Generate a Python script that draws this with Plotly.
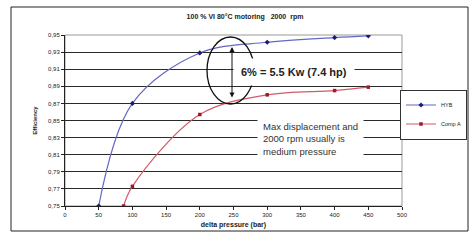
import plotly.graph_objects as go

# ---- data ----
pressure_hyb = [50, 100, 200, 300, 400, 450]
eff_hyb = [0.750, 0.870, 0.929, 0.9415, 0.947, 0.949]
pressure_comp = [87, 100, 200, 300, 400, 450]
eff_comp = [0.750, 0.773, 0.857, 0.880, 0.885, 0.889]
series_names = ["HYB", "Comp A"]
x_ticks = [0, 50, 100, 150, 200, 250, 300, 350, 400, 450, 500]
y_ticks = [0.75, 0.77, 0.79, 0.81, 0.83, 0.85, 0.87, 0.89, 0.91, 0.93, 0.95]
y_ticktext = ["0,75", "0,77", "0,79", "0,81", "0,83", "0,85", "0,87", "0,89", "0,91", "0,93", "0,95"]

W, H = 470, 240
L, R, T, B = 65, 402, 35, 206


def px2x(p):
    return (p - L) / (R - L) * 500


def py2y(p):
    return 0.95 - (p - T) / (B - T) * 0.2


fig = go.Figure()
fig.add_trace(go.Scatter(
    x=pressure_hyb, y=eff_hyb, name=series_names[0], mode="lines+markers",
    line=dict(color="#6468c0", width=1.2, shape="spline", smoothing=1),
    marker=dict(symbol="diamond", size=4, color="#1c1c7a"),
))
fig.add_trace(go.Scatter(
    x=pressure_comp, y=eff_comp, name=series_names[1], mode="lines+markers",
    line=dict(color="#d45a68", width=1.2, shape="spline", smoothing=1),
    marker=dict(symbol="square", size=3.5, color="#a01828"),
))

font_fam = "Arial, Liberation Sans, sans-serif"

fig.update_layout(
    width=W, height=H,
    margin=dict(l=L, r=W - R, t=T, b=H - B, autoexpand=False),
    paper_bgcolor="white", plot_bgcolor="white",
    font=dict(family=font_fam, size=6, color="#222"),
    title=dict(text="<b>100 % VI 80°C motoring   2000  rpm</b>",
               x=245 / W, xanchor="center", y=1 - 17 / H, yanchor="middle",
               font=dict(size=7, color="#222")),
    showlegend=True,
    legend=dict(x=(467 - L) / (R - L), xanchor="right",
                y=1 - (114.5 - T) / (B - T), yanchor="middle",
                bordercolor="#333", borderwidth=1, bgcolor="white",
                font=dict(size=5.5), itemwidth=30, tracegroupgap=0),
    xaxis=dict(range=[0, 500], tickvals=x_ticks, ticks="outside", ticklen=3,
               tickcolor="#222", showgrid=False, zeroline=False, automargin=False,
               showline=True, linecolor="#222", linewidth=1,
               tickfont=dict(size=6),
               title=dict(text="<b>delta pressure (bar)</b>", font=dict(size=7), standoff=4)),
    yaxis=dict(range=[0.75, 0.95], tickvals=y_ticks, ticktext=y_ticktext,
               ticks="outside", ticklen=3, tickcolor="#222", automargin=False,
               showgrid=True, gridcolor="#2a2a2a", gridwidth=1, zeroline=False,
               showline=True, linecolor="#222", linewidth=1,
               tickfont=dict(size=6),
               title=dict(text="<b>Efficiency</b>", font=dict(size=6), standoff=10)),
)

# plot-area border and outer chart frame
fig.add_shape(type="rect", xref="paper", yref="paper", x0=0, x1=1, y0=0, y1=1,
              line=dict(color="#999", width=1), layer="below")
fig.add_shape(type="rect", xref="paper", yref="paper",
              x0=(11 - L) / (R - L), x1=(468 - L) / (R - L),
              y0=(B - 231) / (B - T), y1=(B - 7) / (B - T),
              line=dict(color="#222", width=1))

# ellipse
fig.add_shape(type="circle", xref="x", yref="y",
              x0=px2x(207), x1=px2x(254), y0=py2y(104), y1=py2y(37),
              line=dict(color="#111", width=1.3))

# double arrow
fig.add_annotation(x=px2x(232), y=py2y(47), ax=px2x(232), ay=py2y(99),
                   xref="x", yref="y", axref="x", ayref="y", text="",
                   showarrow=True, arrowhead=2, arrowside="end+start",
                   arrowsize=1, arrowwidth=1, arrowcolor="#111")

# label boxes
fig.add_annotation(x=px2x(294), y=py2y(72), xref="x", yref="y",
                   text="<b>6% = 5.5 Kw (7.4 hp)</b>", showarrow=False,
                   font=dict(size=11, color="#222"), bgcolor="white", borderpad=7)
fig.add_annotation(x=px2x(310), y=py2y(138.5), xref="x", yref="y",
                   text="Max displacement and<br>2000 rpm usually is<br>medium pressure",
                   showarrow=False, align="left",
                   font=dict(size=9.5, color="#333"), bgcolor="white", borderpad=5)

fig.write_html("out.html", config={"displayModeBar": False},
               post_script="document.body.style.margin='0';")
